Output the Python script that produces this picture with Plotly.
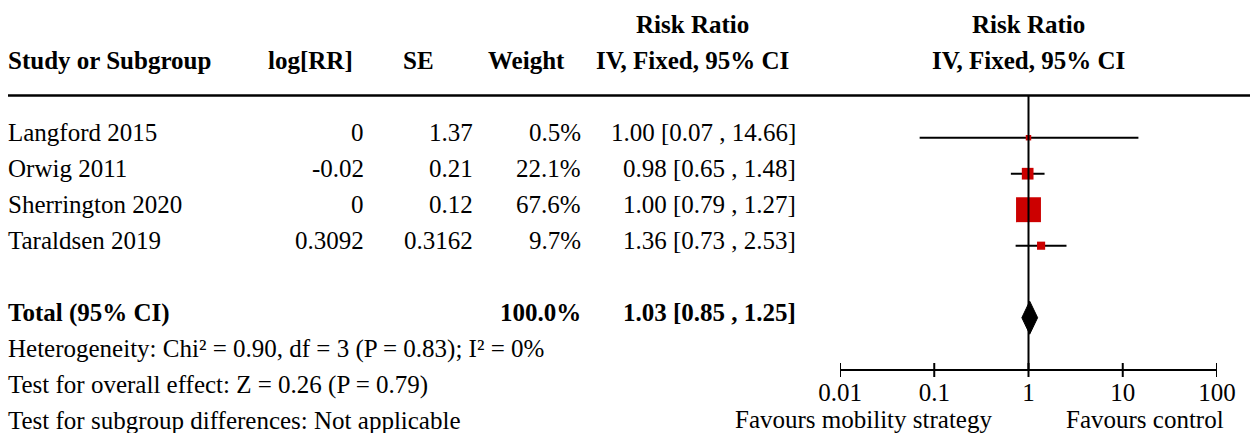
import plotly.graph_objects as go

# ---------------- data ----------------
studies = ["Langford 2015", "Orwig 2011", "Sherrington 2020", "Taraldsen 2019"]
log_rr = [0, -0.02, 0, 0.3092]
se = [1.37, 0.21, 0.12, 0.3162]
weights = [0.5, 22.1, 67.6, 9.7]
rr = [1.00, 0.98, 1.00, 1.36]
ci_lo = [0.07, 0.65, 0.79, 0.73]
ci_hi = [14.66, 1.48, 1.27, 2.53]

total_label = "Total (95% CI)"
total_weight = 100.0
total_rr = 1.03
total_lo = 0.85
total_hi = 1.25

footer_lines = [
    "Heterogeneity: Chi² = 0.90, df = 3 (P = 0.83); I² = 0%",
    "Test for overall effect: Z = 0.26 (P = 0.79)",
    "Test for subgroup differences: Not applicable",
]

tick_vals = [0.01, 0.1, 1, 10, 100]
tick_text = ["0.01", "0.1", "1", "10", "100"]
favours_left = "Favours mobility strategy"
favours_right = "Favours control"

# ---------------- layout constants ----------------
W, H = 1250, 433
FONT = "Liberation Serif"
FS = 25
ROW0 = 24.7        # text centre of first header row (px)
ROW = 36           # row pitch (px)
MARK_OFF = 5       # markers sit slightly below text centre
AXIS_Y = 370
HEADER_LINE_Y = 95.5
RED = "#cc0000"


def text_y(k):
    return ROW0 + ROW * k


def mark_y(k):
    return text_y(k) + MARK_OFF


fig = go.Figure()

# confidence intervals
rows = [3 + i for i in range(len(studies))]
for i in range(len(studies)):
    y = mark_y(rows[i])
    fig.add_trace(go.Scatter(x=[ci_lo[i], ci_hi[i]], y=[y, y], mode="lines",
                             line=dict(color="black", width=2), hoverinfo="skip"))
# weighted squares
fig.add_trace(go.Scatter(
    x=rr, y=[mark_y(r) for r in rows], mode="markers",
    marker=dict(symbol="square", color=RED, opacity=1,
                size=[5.3 + 0.29 * w for w in weights], line=dict(width=0)),
    hoverinfo="skip"))

# diamond for the total
ty = mark_y(8)
hh = 16.5
fig.add_trace(go.Scatter(
    x=[total_lo, total_rr, total_hi, total_rr, total_lo],
    y=[ty, ty - hh, ty, ty + hh, ty],
    mode="lines", fill="toself", fillcolor="black",
    line=dict(color="black", width=1), hoverinfo="skip"))

# reference line at RR = 1
fig.add_trace(go.Scatter(x=[1, 1], y=[HEADER_LINE_Y, AXIS_Y], mode="lines",
                         line=dict(color="black", width=2), hoverinfo="skip"))

# tick marks crossing the axis line
fig.add_trace(go.Scatter(
    x=tick_vals, y=[AXIS_Y] * len(tick_vals), mode="markers",
    marker=dict(symbol="line-ns", size=10, opacity=1,
                line=dict(color="black", width=2)),
    hoverinfo="skip"))

ann = []


def add_text(txt, px, y, anchor, bold=False):
    ann.append(dict(
        text=f"<b>{txt}</b>" if bold else txt,
        x=px / W, xref="paper", y=y, yref="y",
        xanchor=anchor, yanchor="middle", showarrow=False, borderpad=0,
        font=dict(family=FONT, size=FS, color="black")))


X1 = 1028.7  # pixel position of RR = 1
XL = 7       # left edge of the text table

# headers
add_text("Risk Ratio", 692, text_y(0), "center", True)
add_text("Risk Ratio", X1, text_y(0), "center", True)
add_text("Study or Subgroup", XL, text_y(1), "left", True)
add_text("log[RR]", 354, text_y(1), "right", True)
add_text("SE", 435, text_y(1), "right", True)
add_text("Weight", 566, text_y(1), "right", True)
add_text("IV, Fixed, 95% CI", 692, text_y(1), "center", True)
add_text("IV, Fixed, 95% CI", X1, text_y(1), "center", True)

# study rows
for i, s in enumerate(studies):
    y = text_y(rows[i])
    add_text(s, XL, y, "left")
    add_text(f"{log_rr[i]:g}", 365, y, "right")
    add_text(f"{se[i]:g}", 474, y, "right")
    add_text(f"{weights[i]:.1f}%", 582, y, "right")
    add_text(f"{rr[i]:.2f} [{ci_lo[i]:.2f} , {ci_hi[i]:.2f}]", 797, y, "right")

# total row
add_text(total_label, XL, text_y(8), "left", True)
add_text(f"{total_weight:.1f}%", 582, text_y(8), "right", True)
add_text(f"{total_rr:.2f} [{total_lo:.2f} , {total_hi:.2f}]", 797, text_y(8), "right", True)

for j, line in enumerate(footer_lines):
    add_text(line, XL, text_y(9 + j), "left")

# favours labels
add_text(favours_left, 993, 419, "right")
add_text(favours_right, 1065, 419, "left")

fig.update_layout(
    width=W, height=H, autosize=False,
    margin=dict(l=0, r=0, t=0, b=0, pad=0, autoexpand=False),
    paper_bgcolor="white", plot_bgcolor="white",
    showlegend=False,
    font=dict(family=FONT, size=FS, color="black"),
    xaxis=dict(type="log", domain=[840 / W, 1217 / W], range=[-2, 2],
               anchor="free", position=(H - AXIS_Y) / H, automargin=False,
               showline=True, linecolor="black", linewidth=2,
               ticks="", tickvals=tick_vals, ticktext=tick_text,
               tickfont=dict(family=FONT, size=FS, color="black"),
               showgrid=False, zeroline=False, fixedrange=True),
    yaxis=dict(range=[H, 0], domain=[0, 1], visible=False, automargin=False,
               showgrid=False, zeroline=False, fixedrange=True),
    annotations=ann,
    shapes=[dict(type="line", xref="paper", yref="y",
                 x0=8 / W, x1=1, y0=HEADER_LINE_Y, y1=HEADER_LINE_Y,
                 line=dict(color="black", width=2.3))],
)

fig.write_html("out.html", post_script="document.body.style.margin='0';",
               config={"displayModeBar": False})
